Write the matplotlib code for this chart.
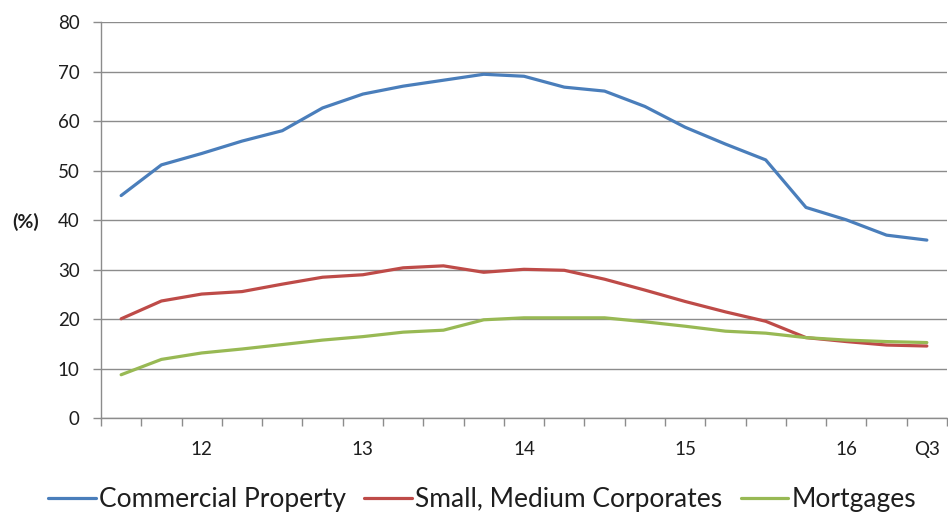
import matplotlib
matplotlib.use("Agg")
import matplotlib.pyplot as plt
from matplotlib.ticker import FixedLocator, NullFormatter

plt.rcParams['font.family'] = ['Lato', 'DejaVu Sans']

# 21 quarters: 2011 Q3 ... 2016 Q3
tick_positions = [2, 6, 10, 14, 18, 20]
tick_labels = ["12", "13", "14", "15", "16", "Q3"]

commercial = [45.0, 51.2, 53.5, 56.0, 58.1, 62.7, 65.5, 67.1, 68.3, 69.5, 69.1,
              66.9, 66.1, 63.0, 58.8, 55.4, 52.2, 42.6, 40.1, 37.0, 36.0]
smes = [20.1, 23.7, 25.1, 25.6, 27.1, 28.5, 29.0, 30.4, 30.8, 29.5, 30.1,
        29.9, 28.1, 25.9, 23.6, 21.5, 19.6, 16.3, 15.5, 14.8, 14.6]
mortgages = [8.8, 11.9, 13.2, 14.0, 14.9, 15.8, 16.5, 17.4, 17.8, 19.9, 20.3,
             20.3, 20.3, 19.5, 18.6, 17.6, 17.2, 16.3, 15.8, 15.5, 15.3]

series_names = ["Commercial Property", "Small, Medium Corporates", "Mortgages"]
colors = ["#4A7EBB", "#BE4B48", "#98B954"]

fig = plt.figure(figsize=(9.48, 5.15), dpi=100)
ax = fig.add_axes([101/948, (515-418.3)/515, 846/948, (418.3-22.3)/515])

x = list(range(len(commercial)))
for vals, name, c in zip([commercial, smes, mortgages], series_names, colors):
    ax.plot(x, vals, color=c, lw=2.3, label=name, solid_capstyle='round',
            solid_joinstyle='round', zorder=3)

ax.set_xlim(-0.5, len(x) - 0.5)
ax.set_ylim(0, 80)
ax.set_yticks(range(0, 81, 10))
ax.yaxis.grid(True, color="#8C8C8C", lw=1.0)
ax.set_axisbelow(True)

grid_col = "#8C8C8C"
for s in ["top", "right"]:
    ax.spines[s].set_visible(False)
for s in ["left", "bottom"]:
    ax.spines[s].set_color(grid_col)
    ax.spines[s].set_linewidth(1.0)

txt_col = "#1E1E1E"
ax.set_xticks(tick_positions)
ax.set_xticklabels(tick_labels)
ax.xaxis.set_minor_locator(FixedLocator([i - 0.5 for i in range(len(x) + 1)]))
ax.xaxis.set_minor_formatter(NullFormatter())
ax.tick_params(axis='x', which='major', length=0, pad=16.5, labelsize=13.5, labelcolor=txt_col)
ax.tick_params(axis='x', which='minor', length=5.5, width=1.0, color=grid_col, direction='out')
ax.tick_params(axis='y', length=6, width=1.0, color=grid_col, pad=9.5, labelsize=13.5,
               labelcolor=txt_col)

fig.text(12/948, 1 - 222/515, "(%)", fontsize=14, fontweight='bold', ha='left', va='center',
         color=txt_col)

fig.legend(loc='center', bbox_to_anchor=(482/948, 1 - 500/515), ncol=3, frameon=False,
           fontsize=19, handlelength=1.8, handletextpad=0.12, columnspacing=0.7,
           labelcolor=txt_col)

fig.savefig("out.png", dpi=100)
